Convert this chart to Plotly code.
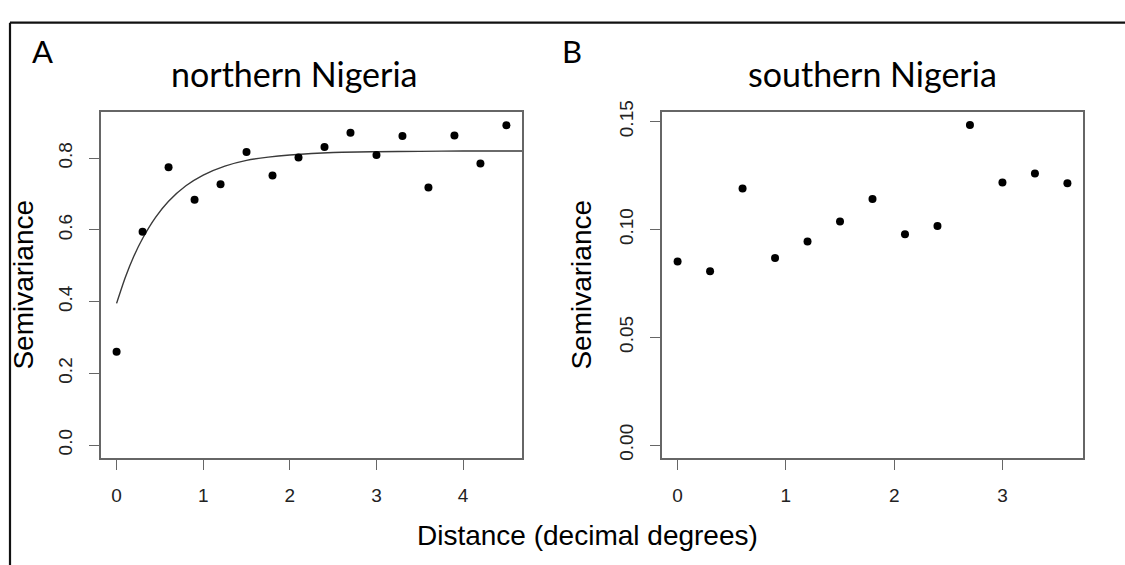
import plotly.graph_objects as go

# ---- data ----
north_dist = [0.0, 0.3, 0.6, 0.9, 1.2, 1.5, 1.8, 2.1, 2.4, 2.7, 3.0, 3.3, 3.6, 3.9, 4.2, 4.5]
north_semivar = [0.260, 0.595, 0.775, 0.684, 0.727, 0.817, 0.752, 0.802, 0.831, 0.871,
                 0.809, 0.862, 0.718, 0.863, 0.785, 0.892]
north_model_dist = [0.0, 0.1, 0.2, 0.3, 0.45, 0.6, 0.8, 1.0, 1.25, 1.5, 1.75, 2.0, 2.5,
                    3.0, 3.5, 4.0, 4.68]
north_model_semivar = [0.395, 0.467, 0.527, 0.576, 0.635, 0.680, 0.723, 0.753, 0.778,
                       0.794, 0.803, 0.809, 0.816, 0.818, 0.819, 0.820, 0.820]
south_dist = [0.0, 0.3, 0.6, 0.9, 1.2, 1.5, 1.8, 2.1, 2.4, 2.7, 3.0, 3.3, 3.6]
south_semivar = [0.0851, 0.0806, 0.1190, 0.0867, 0.0944, 0.1037, 0.1141, 0.0978,
                 0.1016, 0.1484, 0.1218, 0.1259, 0.1214]

north_xticks = [0, 1, 2, 3, 4]
north_yticks = [0.0, 0.2, 0.4, 0.6, 0.8]
north_ytick_text = ["0.0", "0.2", "0.4", "0.6", "0.8"]
south_xticks = [0, 1, 2, 3]
south_yticks = [0.00, 0.05, 0.10, 0.15]
south_ytick_text = ["0.00", "0.05", "0.10", "0.15"]

panel_titles = ["northern Nigeria", "southern Nigeria"]
panel_letters = ["A", "B"]
y_label = "Semivariance"
x_label = "Distance (decimal degrees)"

W, H = 1125, 565


def px(x):
    return x / W


def py(y):
    return 1 - y / H


fig = go.Figure()
fig.add_trace(go.Scatter(x=north_model_dist, y=north_model_semivar, mode="lines",
                         line=dict(color="#3a3a3a", width=1.4, shape="spline", smoothing=0.6),
                         xaxis="x", yaxis="y", hoverinfo="skip"))
fig.add_trace(go.Scatter(x=north_dist, y=north_semivar, mode="markers",
                         marker=dict(color="black", size=8),
                         xaxis="x", yaxis="y"))
fig.add_trace(go.Scatter(x=south_dist, y=south_semivar, mode="markers",
                         marker=dict(color="black", size=8),
                         xaxis="x2", yaxis="y2"))

tickfont = dict(family="Liberation Sans, Arial, sans-serif", size=19, color="#222222")
axis_common = dict(showline=True, linecolor="#666666", linewidth=1.6, mirror=True,
                   showgrid=False, zeroline=False, ticks="outside", ticklen=10,
                   tickwidth=1.3, tickcolor="#666666", tickfont=tickfont,
                   ticklabelstandoff=10)

ydom = [py(458), py(103)]
fig.update_layout(
    width=W, height=H, margin=dict(l=0, r=0, t=0, b=0),
    paper_bgcolor="white", plot_bgcolor="white", showlegend=False,
    xaxis=dict(domain=[px(101), px(522)], range=[-0.18, 4.68], tickvals=north_xticks,
               anchor="y", **axis_common),
    yaxis=dict(domain=ydom, range=[-0.0357, 0.928], tickvals=north_yticks,
               ticktext=north_ytick_text, tickangle=-90, anchor="x", **axis_common),
    xaxis2=dict(domain=[px(662), px(1083)], range=[-0.144, 3.744], tickvals=south_xticks,
                anchor="y2", **axis_common),
    yaxis2=dict(domain=ydom, range=[-0.0059, 0.1543], tickvals=south_yticks,
                ticktext=south_ytick_text, tickangle=-90, anchor="x2", **axis_common),
)

label_font = dict(family="Liberation Sans, Arial, sans-serif", size=28, color="black")
title_font = dict(family="Lato, Carlito, Calibri, sans-serif", size=34, color="black")
letter_font = dict(family="Lato, Carlito, Calibri, sans-serif", size=31, color="black")

ann = []
# panel letters
ann.append(dict(x=px(42.5), y=py(40), text=panel_letters[0], font=letter_font))
ann.append(dict(x=px(572), y=py(40), text=panel_letters[1], font=letter_font))
# titles
ann.append(dict(x=px(293.5), y=py(63), text=panel_titles[0], font=title_font))
ann.append(dict(x=px(872), y=py(63), text=panel_titles[1], font=title_font))
# y labels
ann.append(dict(x=px(24), y=py(280), text=y_label, textangle=-90, font=label_font))
ann.append(dict(x=px(582), y=py(280), text=y_label, textangle=-90, font=label_font))
# shared x label
ann.append(dict(x=px(588), y=py(538), text=x_label, font=label_font))
for a in ann:
    a.update(xref="paper", yref="paper", showarrow=False, xanchor="center", yanchor="middle")
fig.update_layout(annotations=ann)

# outer frame (left and top edges visible)
fig.add_shape(type="line", xref="paper", yref="paper", x0=px(10), x1=px(10), y0=-0.05, y1=py(11),
              line=dict(color="#111111", width=2.2))
fig.add_shape(type="line", xref="paper", yref="paper", x0=px(10), x1=1.05, y0=py(11), y1=py(11),
              line=dict(color="#111111", width=2.2))

fig.write_html("out.html")
